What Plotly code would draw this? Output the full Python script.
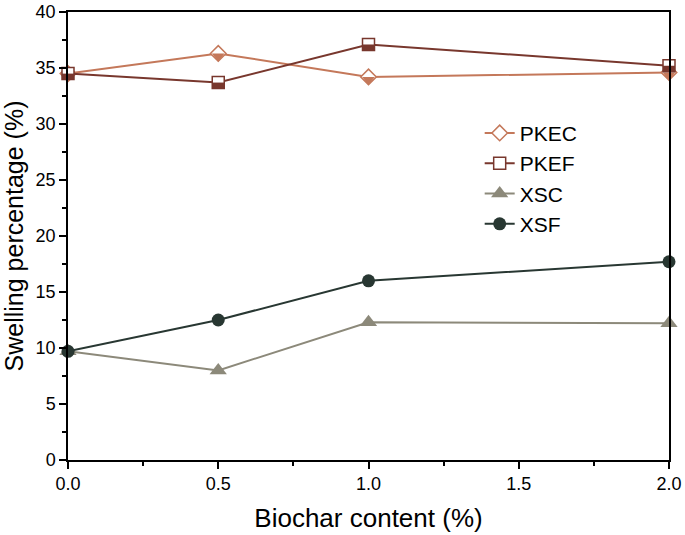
import plotly.graph_objects as go

# ---- data ----
biochar = [0.0, 0.5, 1.0, 2.0]
pkec = [34.5, 36.3, 34.2, 34.6]
pkef = [34.5, 33.7, 37.1, 35.2]
xsc = [9.7, 8.0, 12.3, 12.2]
xsf = [9.7, 12.5, 16.0, 17.7]
series_names = ["PKEC", "PKEF", "XSC", "XSF"]
x_ticks = [0.0, 0.5, 1.0, 1.5, 2.0]
y_ticks = [0, 5, 10, 15, 20, 25, 30, 35, 40]

# ---- style ----
C_PKEC = "#C4785A"
C_PKEF = "#78372D"
C_XSC = "#8C897A"
C_XSF = "#283732"

W, H = 685, 535
M = dict(l=68, r=16, t=12, b=75)
Y_RANGE = [0, 40]
px_per_unit = (H - M["t"] - M["b"]) / (Y_RANGE[1] - Y_RANGE[0])

fig = go.Figure()

# PKEC: diamond, lower half filled
fig.add_trace(go.Scatter(
    x=biochar, y=pkec, name=series_names[0], mode="lines+markers",
    line=dict(color=C_PKEC, width=2),
    marker=dict(symbol="diamond", size=12, color="white",
                line=dict(color=C_PKEC, width=1.5)),
    cliponaxis=False))
tri_size = 11
tri_shift = (tri_size / 4) / px_per_unit
fig.add_trace(go.Scatter(
    x=biochar, y=[v - tri_shift for v in pkec], mode="markers", showlegend=False,
    marker=dict(symbol="triangle-down", size=tri_size, color=C_PKEC, line=dict(width=0)),
    hoverinfo="skip", cliponaxis=False))

# PKEF: square, lower half filled
fig.add_trace(go.Scatter(
    x=biochar, y=pkef, name=series_names[1], mode="lines+markers",
    line=dict(color=C_PKEF, width=2),
    marker=dict(symbol="square", size=12, color="white",
                line=dict(color=C_PKEF, width=1.5)),
    cliponaxis=False))
bar_w = 6
fig.add_trace(go.Scatter(
    x=biochar, y=[v - (bar_w / 2) / px_per_unit for v in pkef], mode="markers",
    showlegend=False,
    marker=dict(symbol="line-ew", size=8.6, line=dict(color=C_PKEF, width=bar_w)),
    hoverinfo="skip", cliponaxis=False))

# XSC: triangle
fig.add_trace(go.Scatter(
    x=biochar, y=xsc, name=series_names[2], mode="lines+markers",
    line=dict(color=C_XSC, width=2),
    marker=dict(symbol="triangle-up", size=15, color=C_XSC),
    cliponaxis=False))

# XSF: circle
fig.add_trace(go.Scatter(
    x=biochar, y=xsf, name=series_names[3], mode="lines+markers",
    line=dict(color=C_XSF, width=2),
    marker=dict(symbol="circle", size=13, color=C_XSF),
    cliponaxis=False))

axis_common = dict(
    showline=True, linecolor="black", linewidth=1.5, mirror=True,
    showgrid=False, zeroline=False, ticks="outside", ticklen=7,
    tickwidth=1.5, tickcolor="black", automargin=False,
    tickfont=dict(family="Liberation Sans, Arial, sans-serif", size=18, color="black"),
)

fig.update_layout(
    width=W, height=H, margin=M,
    paper_bgcolor="white", plot_bgcolor="white",
    font=dict(family="Liberation Sans, Arial, sans-serif", color="black"),
    xaxis=dict(
        **axis_common, range=[0, 2], tickvals=x_ticks,
        ticktext=[f"{v:.1f}" for v in x_ticks],
        minor=dict(ticks="outside", ticklen=4, dtick=0.25, tickcolor="black", tickwidth=1.5),
        title=dict(text="Biochar content (%)", font=dict(size=26)),
    ),
    yaxis=dict(
        **axis_common, range=Y_RANGE, tickvals=y_ticks,
        minor=dict(ticks="outside", ticklen=4, dtick=2.5, tickcolor="black", tickwidth=1.5),
        title=dict(text="Swelling percentage (%)", font=dict(size=25)),
    ),
    legend=dict(
        x=0.685, y=0.775, xanchor="left", yanchor="top",
        bgcolor="rgba(0,0,0,0)", font=dict(size=21, color="black"),
        itemwidth=30, tracegroupgap=0,
    ),
    showlegend=True,
)

fig.write_html(
    "out.html",
    config={"displayModeBar": False},
    post_script="document.body.style.margin='0';",
)
